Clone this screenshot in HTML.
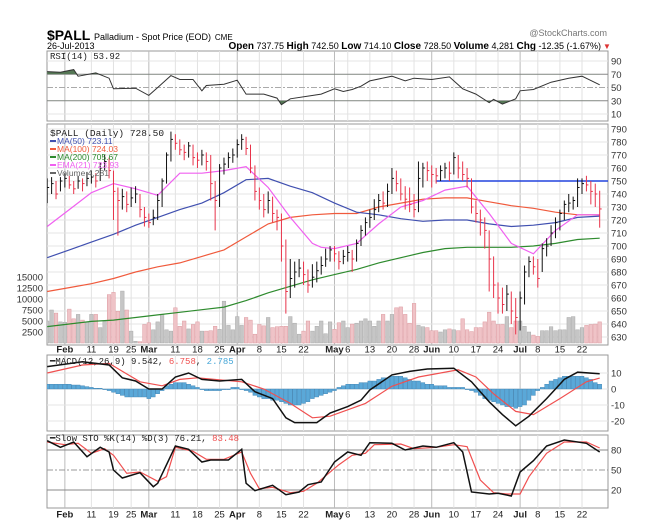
<!DOCTYPE html>
<html><head><meta charset="utf-8"><style>
html,body{margin:0;padding:0;background:#fff;}
svg{display:block;font-family:"Liberation Sans",sans-serif;}
</style></head><body>
<svg id="chart" width="651" height="526" viewBox="0 0 651 526" xmlns="http://www.w3.org/2000/svg">
<rect width="651" height="526" fill="#fff"/>
<text x="47" y="40" font-size="14" font-weight="bold" fill="#000">$PALL <tspan font-size="9" font-weight="normal">Palladium - Spot Price (EOD)</tspan> <tspan font-size="8" font-weight="normal">CME</tspan></text>
<text x="47" y="49" font-size="9" fill="#000">26-Jul-2013</text>
<text x="607" y="36" font-size="9" fill="#777" text-anchor="end">@StockCharts.com</text>
<text x="601" y="49" font-size="9" fill="#000" text-anchor="end"><tspan font-weight="bold" font-size="10">Open</tspan> 737.75 <tspan font-weight="bold" font-size="10">High</tspan> 742.50 <tspan font-weight="bold" font-size="10">Low</tspan> 714.10 <tspan font-weight="bold" font-size="10">Close</tspan> 728.50 <tspan font-weight="bold" font-size="10">Volume</tspan> 4,281 <tspan font-weight="bold" font-size="10">Chg</tspan> -12.35 (-1.67%)</text>
<text x="603" y="49" font-size="8" fill="#d33">▼</text>
<g id="g"></g>
</svg>
<script>
const closes=[745,748,740,750,752,747,744,750,748,752,753,750,760,765,758,742,735,738,732,737,740,728,722,718,722,735,750,770,782,779,774,772,777,768,766,770,765,748,735,760,763,768,770,778,782,775,760,742,735,728,735,725,722,700,665,675,680,683,678,670,676,681,685,690,697,694,688,692,695,690,702,712,718,722,728,735,733,742,752,748,740,736,732,728,752,760,758,755,754,758,760,756,768,760,755,752,730,725,720,712,690,670,660,655,663,650,645,660,680,688,684,675,698,700,710,718,725,732,733,735,745,748,747,742,740,728.5];
const highs=[752,753,750,753,756,754,750,754,752,757,758,756,764,770,768,758,745,744,742,745,746,740,730,725,728,740,752,772,788,786,782,778,780,778,772,774,772,770,750,763,768,772,775,782,786,784,778,762,745,740,742,738,728,725,705,690,688,690,688,682,686,688,692,698,700,700,696,697,700,697,705,716,722,728,736,740,742,748,760,758,752,746,745,740,765,764,765,762,760,762,764,765,772,770,765,760,752,735,728,722,712,692,672,668,670,665,660,665,685,692,692,690,702,706,716,722,728,735,740,738,752,752,754,750,748,742.5];
const lows=[733,740,736,742,745,744,740,744,742,746,748,745,750,758,752,720,708,728,726,730,733,722,715,714,716,720,730,748,765,774,770,766,768,762,760,762,758,735,712,730,755,760,764,768,774,770,756,735,728,722,725,718,712,688,648,660,668,676,670,664,668,672,678,684,688,688,682,686,688,680,688,700,708,714,720,726,728,730,740,742,735,728,726,722,726,745,750,745,748,750,752,750,755,752,750,745,725,718,708,698,665,660,648,648,650,640,632,635,655,676,678,668,680,692,700,706,712,720,726,728,730,740,742,732,730,714.1];
const volumes=[5000,7500,6800,4800,4700,7700,5500,6500,5200,4800,6500,6500,3500,5000,11000,11500,7200,11800,7500,2700,400,300,4200,4600,3000,4800,6500,3000,2700,8000,3800,5000,3200,4200,4800,2700,2700,2800,3800,3100,9500,4000,3000,6000,4000,5800,5200,2000,4200,3900,5800,3500,3700,3800,3800,6000,4500,2000,2700,5000,2700,3800,5000,2100,4800,3100,4600,5000,3500,4300,4500,5000,5500,5000,3800,5000,6500,5000,6500,8000,8200,6500,4500,9000,4000,3700,3500,2800,2800,2500,3000,3200,3000,2800,5500,3000,2600,3500,3500,4800,7000,5000,4200,4200,6000,3500,5000,5000,3800,2500,1800,1500,2800,2800,3700,2800,3000,3000,5800,6000,3000,3500,4000,4200,4300,4800];
const maIdx=[0,5,10,15,20,25,30,35,40,45,50,55,60,65,70,75,80,85,90,95,100,105,110,115,120,125];
const ma50=[691,697,703,709,716,722,728,733,741,751,752,746,741,733,726,724,721,719,720,720,717,715,716,718,722,723];
const ma100=[665,668,671,675,680,684,687,692,697,707,717,722,724,725,725,730,733,736,737,737,734,731,729,726,724,724];
const ma200=[638,640,642,643,645,647,649,651,653,658,664,669,674,678,682,687,691,695,698,699,699,699,700,702,705,706];
const ema21Idx=[0,5,10,15,20,25,30,35,40,45,50,55,60,62,65,70,75,80,85,90,95,100,105,110,115,120,125];
const ema21=[715,728,741,748,744,739,756,756,758,761,745,722,702,699,698,702,717,730,735,743,746,725,702,694,712,724,724];
const rsiIdx=[0,3,6,7,11,14,15,20,23,25,28,30,33,35,36,40,43,45,49,52,53,55,59,62,65,67,69,71,73,78,81,83,87,91,94,97,100,101,103,106,107,110,114,118,121,125];
const rsiVal=[74,73,77,67,72,64,48,49,38,50,68,62,62,45,53,55,61,40,40,34,24,33,37,40,48,44,47,52,60,67,60,64,62,66,48,40,27,32,25,33,45,47,58,64,67,54];
const macdIdx=[0,8,14,17,20,23,26,29,32,35,39,44,47,51,54,56,61,64,68,71,73,78,82,86,92,96,100,103,106,109,113,117,120,125];
const macdVal=[14,17,15,7,5,0,0,7.5,10,6,5,6,-1.7,-6,-18,-21,-21,-15,-11,-7,-0.6,8.8,11,12.5,13,4.5,-8,-16,-23,-17,-6,6,10.5,9.5];
const sigIdx=[0,8,14,21,26,30,34,44,49,55,60,64,72,78,84,93,97,101,106,110,116,122,125];
const sigVal=[10,15,16,4.5,2,6,7,4.5,0,-9,-18,-17,-9,1.7,7.5,12,7.5,-3,-14,-16,-6,4.5,6.8];
const histVal=[3,3,3,3,3,3,2.5,2.5,2,1.5,1,0.5,0.5,0,-1,-2,-3,-4,-5,-5,-5,-5,-5,-6,-5,-3,-1,2,3,4,4,4,3,2,1,0,-1,-1,-1,-1,0,0,1,1,0,-1,-2,-4,-5,-6,-6,-7,-7,-8,-9,-10,-10,-10,-9,-8,-6,-5,-4,-3,-2,-1,1,2,3,3,3,4,4,5,5,6,7,7,8,8,8,7,6,5,5,4,3,3,2,2,2,1,1,1,1,0,-1,-2,-4,-6,-7,-8,-9,-10,-11,-11,-12,-11,-10,-7,-4,-1,1,3,5,6,7,8,8,8,8,8,7,6,4,3];
const kIdx=[0,3,6,9,12,14,15,17,21,24,25,29,32,35,37,41,44,45,47,51,54,57,59,62,65,68,71,73,78,81,85,88,92,94,96,100,102,105,107,110,113,117,122,125];
const kVal=[94,84,92,70,84,77,50,38,46,25,30,86,81,62,65,65,81,30,19,27,13,17,28,32,62,77,72,91,90,80,86,84,91,77,17,14,15,11,47,64,86,95,90,77];
const dIdx=[0,4,7,10,13,15,18,21,25,27,29,33,36,40,44,46,48,51,55,58,61,66,69,72,74,80,83,88,92,95,98,101,104,107,109,113,117,122,125];
const dVal=[92,88,90,75,82,72,45,47,33,40,84,78,66,66,77,45,22,24,16,18,30,58,72,75,88,89,82,84,88,85,35,16,14,14,40,75,92,92,83];
const tickIdx=[4,10,15,19,23,29,34,39,43,48,53,58,65,68,73,78,83,87,92,97,102,107,111,116,121];
const tickLbl=["Feb","11","19","25","Mar","11","18","25","Apr","8","15","22","May","6","13","20","28","Jun","10","17","24","Jul","8","15","22"];
const tickMonth=[1,0,0,0,1,0,0,0,1,0,0,0,1,0,0,0,0,1,0,0,0,1,0,0,0];
const priceTicks=[630,640,650,660,670,680,690,700,710,720,730,740,750,760,770,780,790];
const volTicks=[2500,5000,7500,10000,12500,15000];
const rsiTicks=[10,30,50,70,90];
const macdTicks=[-20,-10,0,10];
const stoTicks=[20,50,80];
const resistance=750;

const NS="http://www.w3.org/2000/svg";
const G=document.getElementById('g');
const L=47,R=608;
const X=i=>582+4.42*(i-121);
const yP=p=>129+(790-p)*1.3;
const yV=v=>343-v*0.0044;
const yR=r=>61+(90-r)*0.6625;
const yM=v=>389-v*1.6;
const yS=v=>450+(80-v)*0.6667;
function el(t,a,parent){const e=document.createElementNS(NS,t);for(const k in a)e.setAttribute(k,a[k]);(parent||G).appendChild(e);return e;}
function pts(idx,vals,yf){return idx.map((d,j)=>X(d).toFixed(1)+','+yf(vals[j]).toFixed(1)).join(' ');}
const defs=el('defs',{});
function clip(id,y0,y1){const c=el('clipPath',{id:id},defs);el('rect',{x:L,y:y0,width:R-L,height:y1-y0},c);}
const panels=[['rsi',51,121],['main',124,345],['macd',355,431],['sto',435,508]];
panels.forEach(p=>clip('c-'+p[0],p[1],p[2]));

// panel backgrounds and vertical grid
panels.forEach(p=>{
  const r=el('rect',{x:L,y:p[1],width:R-L,height:p[2]-p[1],fill:'#fff',stroke:'#999','stroke-width':1});
  
  
  tickIdx.forEach((d,j)=>{
    el('line',{x1:X(d),x2:X(d),y1:p[1],y2:p[2],stroke:tickMonth[j]?'#bbb':'#e2e2e2','stroke-width':1});
  });
});
// horizontal grids
priceTicks.forEach(v=>{
  el('line',{x1:L,x2:R,y1:yP(v),y2:yP(v),stroke:'#e4e4e4'});
  const t=el('text',{x:611,y:yP(v)+3.5,'font-size':9.5,fill:'#333'});t.textContent=v;
  
  
});
volTicks.forEach(v=>{
  const t=el('text',{x:43,y:yV(v)+3.5,'font-size':9.5,fill:'#333','text-anchor':'end'});t.textContent=v;
  
  
});
rsiTicks.forEach(v=>{
  const s=(v===30||v===70)?'#888':(v===50?'#aaa':'#e4e4e4');
  const ln=el('line',{x1:L,x2:R,y1:yR(v),y2:yR(v),stroke:s});
  if(v===50)ln.setAttribute('stroke-dasharray','6,2,2,2');
  const t=el('text',{x:611,y:yR(v)+3.5,'font-size':9.5,fill:'#333'});t.textContent=v;
  
  
});
macdTicks.forEach(v=>{
  el('line',{x1:L,x2:R,y1:yM(v),y2:yM(v),stroke:'#e4e4e4'});
  const t=el('text',{x:611,y:yM(v)+3.5,'font-size':9.5,fill:'#333'});t.textContent=v;
  
  
});
stoTicks.forEach(v=>{
  const ln=el('line',{x1:L,x2:R,y1:yS(v),y2:yS(v),stroke:v===50?'#999':'#888'});
  if(v===50)ln.setAttribute('stroke-dasharray','6,2,2,2');
  const t=el('text',{x:611,y:yS(v)+3.5,'font-size':9.5,fill:'#333'});t.textContent=v;
  
  
});
// date labels
[349,514].forEach(yy=>{
  tickIdx.forEach((d,j)=>{
    const t=el('text',{x:X(d),y:yy+3.5,'font-size':9.5,fill:'#222','text-anchor':'middle','font-weight':tickMonth[j]?'bold':'normal'});
    t.textContent=tickLbl[j];
    
    
  });
});

// RSI
const rsiG=el('g',{'clip-path':'url(#c-rsi)'});
const rp=pts(rsiIdx,rsiVal,yR);
const fc1=el('clipPath',{id:'rsiHi'},defs);el('rect',{x:L,y:0,width:R-L,height:yR(70)},fc1);
const fc2=el('clipPath',{id:'rsiLo'},defs);el('rect',{x:L,y:yR(30),width:R-L,height:200},fc2);
const fillHi=el('polygon',{points:rp+' '+X(125)+','+yR(70)+' '+X(0)+','+yR(70),fill:'#557755','clip-path':'url(#rsiHi)'},rsiG);


const fillLo=el('polygon',{points:rp+' '+X(125)+','+yR(30)+' '+X(0)+','+yR(30),fill:'#557755','clip-path':'url(#rsiLo)'},rsiG);


const rl=el('polyline',{points:rp,fill:'none',stroke:'#333','stroke-width':1},rsiG);


const rt=el('text',{x:50,y:59,'font-size':9,fill:'#222','font-family':'Liberation Mono,monospace'});rt.textContent='RSI(14) 53.92';



// main: volume
const mG=el('g',{'clip-path':'url(#c-main)'});
volumes.forEach((v,i)=>{
  const down=i>0&&closes[i]<closes[i-1];
  const b=el('rect',{x:X(i)-1.8,y:yV(v),width:3.6,height:343-yV(v),fill:down?'#efc3c7':'#c6c6c6',stroke:down?'#dd9aa0':'#aaa','stroke-width':0.5},mG);
  
  
});
// MAs
[[ma200,maIdx,'#2e8b2e','ma200-line'],[ma100,maIdx,'#f05a3c','ma100-line'],[ma50,maIdx,'#4050b0','ma50-line'],[ema21,ema21Idx,'#f060f0','ema21-line']].forEach(a=>{
  const p=el('polyline',{points:pts(a[1],a[0],yP),fill:'none',stroke:a[2],'stroke-width':1.2},mG);
  
  
});
const rs=el('line',{x1:X(88),x2:R,y1:yP(resistance),y2:yP(resistance),stroke:'#2244dd','stroke-width':1.6},mG);


// price bars
closes.forEach((c,i)=>{
  const down=i>0&&c<closes[i-1];
  const col=down?'#e8334a':'#111';
  const b=el('g',{stroke:col,'stroke-width':1},mG);
  
  
  el('line',{x1:X(i),x2:X(i),y1:yP(highs[i]),y2:yP(lows[i])},b);
  el('line',{x1:X(i),x2:X(i)+2,y1:yP(c),y2:yP(c)},b);
});
// legend
const leg=[['$PALL (Daily) 728.50','#222',135],['MA(50) 723.11','#4050b0',143],['MA(100) 724.03','#f05a3c',151],['MA(200) 705.67','#2e8b2e',159],['EMA(21) 723.93','#f060f0',167],['Volume 4,281','#666',175]];
leg.forEach((l,j)=>{
  if(j>0)el('rect',{x:50,y:l[2]-3,width:6,height:2,fill:l[1]});
  const t=el('text',{x:j>0?57:50,y:l[2]+1,'font-size':j>0?8.5:9.5,fill:l[1],'font-family':j>0?'Liberation Sans,sans-serif':'Liberation Mono,monospace'});
  t.textContent=l[0];
  
  
});

// MACD
const cG=el('g',{'clip-path':'url(#c-macd)'});
histVal.forEach((v,i)=>{
  const y0=yM(0),y1=yM(v);
  const b=el('rect',{x:X(i)-2,y:Math.min(y0,y1),width:4,height:Math.max(0.6,Math.abs(y1-y0)),fill:'#5aa8d8',stroke:'#3a7fb0','stroke-width':0.4},cG);
  
  
});
const sl=el('polyline',{points:pts(sigIdx,sigVal,yM),fill:'none',stroke:'#f05050','stroke-width':1.2},cG);


const ml=el('polyline',{points:pts(macdIdx,macdVal,yM),fill:'none',stroke:'#111','stroke-width':1.5},cG);


const mt=el('text',{x:50,y:364,'font-size':9,fill:'#222','font-family':'Liberation Mono,monospace'});
mt.innerHTML='<tspan>━</tspan>MACD(12,26,9) 9.542, <tspan fill="#f05050">6.758</tspan>, <tspan fill="#4aa8d8">2.785</tspan>';



// STO
const sG=el('g',{'clip-path':'url(#c-sto)'});
const dl=el('polyline',{points:pts(dIdx,dVal,yS),fill:'none',stroke:'#f05050','stroke-width':1.2},sG);


const kl=el('polyline',{points:pts(kIdx,kVal,yS),fill:'none',stroke:'#111','stroke-width':1.5},sG);


const st=el('text',{x:50,y:441,'font-size':9,fill:'#222','font-family':'Liberation Mono,monospace'});
st.innerHTML='<tspan>━</tspan>Slow STO %K(14) %D(3) 76.21, <tspan fill="#f05050">83.48</tspan>';


</script>
</body></html>
